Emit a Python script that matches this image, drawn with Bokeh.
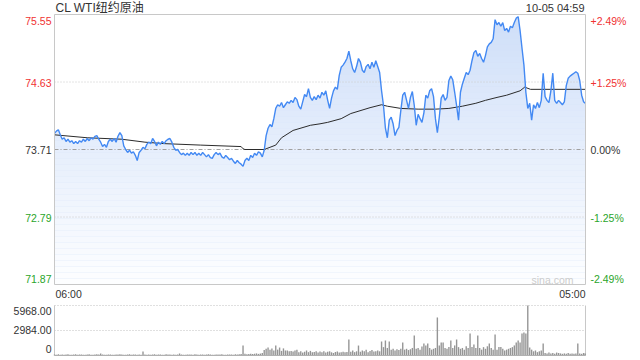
from bokeh.plotting import figure
from bokeh.models import Range1d
from bokeh.core.properties import value
from bokeh.embed import file_html
from bokeh.resources import INLINE

# ---------------- data ----------------
title_text = "CL WTI纽约原油"
stamp_text = "10-05 04:59"
watermark = "sina.com"
prev_close = 73.71
price_ticks = [75.55, 74.63, 73.71, 72.79, 71.87]
price_labels = ["75.55", "74.63", "73.71", "72.79", "71.87"]
pct_labels = ["+2.49%", "+1.25%", "0.00%", "-1.25%", "-2.49%"]
time_labels = ["06:00", "05:00"]
vol_ticks = [5968, 2984, 0]
vol_labels = ["5968.00", "2984.00", "0"]

# minutes after 06:00, 5-minute samples
minutes = list(range(0, 1380, 5)) + [1379]

prices = [
    73.93, 73.96, 73.98, 73.91, 73.85, 73.87, 73.82, 73.85, 73.81, 73.83,
    73.79, 73.82, 73.79, 73.83, 73.81, 73.85, 73.82, 73.86, 73.83, 73.87,
    73.85, 73.89, 73.90, 73.85, 73.81, 73.75, 73.78, 73.74, 73.82, 73.85,
    73.82, 73.86, 73.81, 73.89, 73.94, 73.90, 73.76, 73.71, 73.67, 73.70,
    73.66, 73.68, 73.63, 73.56, 73.67, 73.70, 73.74, 73.72, 73.78, 73.81,
    73.79, 73.86, 73.82, 73.76, 73.81, 73.78, 73.82, 73.79, 73.83, 73.85,
    73.86, 73.81, 73.74, 73.70, 73.71, 73.67, 73.64, 73.66, 73.63, 73.66,
    73.63, 73.67, 73.64, 73.67, 73.63, 73.66, 73.63, 73.67, 73.64, 73.61,
    73.64, 73.60, 73.59, 73.64, 73.67, 73.64, 73.66, 73.61, 73.59, 73.63,
    73.60, 73.57, 73.59, 73.55, 73.52, 73.56, 73.53, 73.51, 73.48, 73.56,
    73.59, 73.56, 73.63, 73.60, 73.66, 73.63, 73.68, 73.66, 73.61, 73.70,
    73.90, 74.00, 74.05, 74.02, 74.13, 74.27, 74.32, 74.30, 74.35, 74.28,
    74.32, 74.36, 74.34, 74.38, 74.35, 74.42, 74.39, 74.30, 74.26, 74.36,
    74.46, 74.43, 74.54, 74.42, 74.38, 74.43, 74.39, 74.45, 74.41, 74.49,
    74.45, 74.51, 74.38, 74.27, 74.41, 74.51, 74.56, 74.53, 74.72, 74.83,
    74.86, 74.90, 74.95, 75.05, 74.92, 74.81, 74.76, 74.84, 74.95, 74.90,
    74.79, 74.76, 74.84, 74.87, 74.81, 74.90, 74.83, 74.92, 74.84, 74.76,
    74.51, 74.31, 74.00, 73.87, 74.11, 74.15, 74.06, 73.90, 73.97, 74.01,
    74.24, 74.45, 74.49, 74.38, 74.27, 74.42, 74.50, 74.31, 74.04, 74.19,
    74.13, 74.08, 74.21, 74.45, 74.41, 74.51, 74.54, 74.43, 74.13, 73.94,
    74.15, 74.41, 74.46, 74.38, 74.42, 74.65, 74.71, 74.66, 74.49, 74.31,
    74.11, 74.49, 74.60, 74.68, 74.76, 74.73, 74.79, 74.92, 75.03, 75.06,
    74.98, 75.02, 74.95, 74.90, 74.99, 75.11, 75.15, 75.17, 75.22, 75.48,
    75.41, 75.44, 75.39, 75.44, 75.33, 75.36, 75.31, 75.39, 75.37, 75.44,
    75.50, 75.52, 75.33, 75.09, 74.86, 74.49, 74.27, 74.34, 74.11, 74.32,
    74.27, 74.35, 74.28, 74.38, 74.75, 74.43, 74.38, 74.35, 74.51, 74.75,
    74.38, 74.34, 74.38, 74.35, 74.32, 74.36, 74.58, 74.68, 74.71, 74.73,
    74.75, 74.77, 74.75, 74.65, 74.45, 74.36, 74.34,
]

avg_minutes = [0, 85, 175, 235, 285, 380, 485, 490, 495, 545,
               560, 575, 590, 620, 665, 690, 710, 745, 770, 820,
               850, 865, 900, 945, 990, 1025, 1060, 1095, 1120, 1150,
               1175, 1210, 1222, 1237, 1379]
avg_prices = [73.91, 73.87, 73.85, 73.81, 73.79, 73.77, 73.75, 73.72, 73.71, 73.71,
              73.74, 73.77, 73.87, 73.97, 74.04, 74.06, 74.08, 74.13, 74.20, 74.28,
              74.32, 74.30, 74.27, 74.26, 74.26, 74.27, 74.30, 74.34, 74.38, 74.42,
              74.45, 74.51, 74.56, 74.53, 74.53]

volumes = [
    120, 90, 150, 100, 130, 80, 110, 140, 90, 100,
    120, 160, 90, 110, 130, 100, 80, 120, 150, 100,
    90, 110, 140, 120, 240, 130, 90, 80, 110, 110,
    100, 90, 130, 120, 150, 110, 100, 90, 120, 140,
    100, 110, 130, 90, 120, 100,
    480,
    130, 100, 120, 90, 110, 150, 100, 130, 120, 90,
    100, 140, 110, 120, 90, 130, 100, 110, 250, 120,
    100, 90, 130, 110, 120, 100, 140, 110, 90, 120,
    130, 100, 110, 150, 120, 90, 100, 130, 110, 120,
    140, 100, 90, 120, 110, 130, 100, 150, 120, 140,
    180, 1190,
    200, 150, 180, 220, 170, 200, 250, 190, 230, 300,
    650, 800, 950, 700, 840, 600, 1190,
    700, 950, 550, 850, 600,
    600, 500, 550, 480, 600, 700,
    400, 500, 350, 450, 600, 400, 550, 380, 420, 500, 360, 480, 400, 520,
    350, 450, 500, 380, 300, 420, 480, 350, 400, 460, 380, 420,
    1910,
    450, 600, 400, 500,
    1190,
    450, 600, 500, 700, 400, 550, 650, 480, 520, 600,
    500, 1670, 1000, 1790, 900, 1670,
    700, 800, 600, 750, 650, 800,
    1550,
    700, 800, 650, 750,
    900, 2390,
    800, 900, 700,
    1070,
    1430, 1200, 1430, 900,
    700, 800,
    900, 4540,
    1200, 1550, 1550, 900,
    800, 1000,
    1790,
    900, 1200,
    1910,
    1000, 800, 900, 700, 1100, 900,
    2630,
    1000, 1300,
    900, 2390,
    900, 700, 1000,
    800, 1100, 1430,
    900, 700,
    2510,
    700, 1000, 1000, 800, 600, 700,
    800, 900, 1000, 1200, 1550,
    1790, 1550, 2630, 2750, 2630, 5968, 950,
    700, 500, 600, 400, 500, 600,
    1430,
    300, 250, 350, 250, 300, 200, 350, 300, 250,
    200, 250, 200, 300, 200, 250, 200, 250,
    1430,
    250, 200, 300, 250,
]

# ---------------- layout (pixels) ----------------
W, H = 640, 360
L, R = 54, 585
PT, PB = 14, 284
VT, VB = 305, 355
T0, T1 = 0, 1380
P_HI, P_LO = price_ticks[0], price_ticks[-1]
V_HI = vol_ticks[0]


def tx(px):
    return T0 + (px - L) * (T1 - T0) / (R - L)


def py(pix):
    return P_HI - (pix - PT) * (P_HI - P_LO) / (PB - PT)


def vy(pix):
    return V_HI - (pix - VT) * V_HI / (VB - VT)


n = min(len(minutes), len(prices))
mins = minutes[:n]
prs = prices[:n]
nv = min(len(minutes), len(volumes))

p = figure(width=W, height=H, output_backend="svg", toolbar_location=None,
           x_axis_location=None, y_axis_location=None, min_border=0,
           x_range=Range1d(tx(0), tx(W)), y_range=Range1d(py(H), py(0)))
p.extra_y_ranges = {"vol": Range1d(vy(H), vy(0))}
p.outline_line_color = None
p.xgrid.visible = False
p.ygrid.visible = False
p.background_fill_color = "white"
p.border_fill_color = "white"

FONT = value("Liberation Sans, Arial, Noto Sans CJK SC")
RED, GREEN, DARK = "#f03232", "#2aa52a", "#333333"

# area under price line with vertical gradient
p.varea(x=mins, y1=[P_LO] * n, y2=prs, fill_color="#cfdff9", fill_alpha=1.0)
nb = 45
band_px = (PB - PT) / nb
bot, top, alph = [], [], []
for k in range(nb):
    y_top_px = PT + k * band_px
    y_bot_px = y_top_px + band_px
    top.append(py(y_top_px))
    bot.append(py(y_bot_px))
    alph.append(0.97 * (k + 0.5) / nb)
p.quad(left=T0, right=T1, bottom=bot, top=top, fill_color="white",
       fill_alpha=alph, line_color=None)

# grid lines
for tv in (price_ticks[1], price_ticks[3]):
    p.line(x=[T0, T1], y=[tv, tv], line_color="#c8c8c8", line_dash="1 2", line_width=1)
p.line(x=[T0, T1], y=[prev_close, prev_close], line_color="#a0a0a0",
       line_dash="4 2 1 2", line_width=1)

# average and price lines
p.line(x=avg_minutes, y=avg_prices, line_color="#2b2b2b", line_width=1)
p.line(x=mins, y=prs, line_color="#4389f3", line_width=1.4)

# price panel border
p.quad(left=T0, right=T1, bottom=P_LO, top=P_HI, fill_color=None,
       line_color="#c8c8c8", line_width=1)

# volume panel
for vt in (vol_ticks[0], vol_ticks[1]):
    p.line(x=[T0, T1], y=[vt, vt], line_color="#c0c0c0", line_dash="1 2",
           line_width=1, y_range_name="vol")
p.segment(x0=[T0, T1], x1=[T0, T1], y0=[0, 0], y1=[V_HI, V_HI],
          line_color="#c8c8c8", line_width=1, y_range_name="vol")
p.vbar(x=minutes[:nv], top=volumes[:nv], bottom=0, width=3.6,
       fill_color="#8a8a8a", line_color=None, fill_alpha=0.9, y_range_name="vol")
p.line(x=[T0, T1], y=[0, 0], line_color="#b0b0b0", line_width=1, y_range_name="vol")

# texts
p.text(x=[tx(55)], y=[py(7)], text=[title_text], text_font=FONT,
       text_font_size="12px", text_color=DARK, text_align="left",
       text_baseline="middle")
p.text(x=[tx(584)], y=[py(7)], text=[stamp_text], text_font=FONT,
       text_font_size="11px", text_color=DARK, text_align="right",
       text_baseline="middle")

label_px = [20, 82, 149, 217, 278]
label_cols = [RED, RED, DARK, GREEN, GREEN]
p.text(x=[tx(51)] * 5, y=[py(v) for v in label_px], text=price_labels,
       text_font=FONT, text_font_size="10.5px", text_color=label_cols,
       text_align="right", text_baseline="middle")
p.text(x=[tx(590)] * 5, y=[py(v) for v in label_px], text=pct_labels,
       text_font=FONT, text_font_size="10.5px", text_color=label_cols,
       text_align="left", text_baseline="middle")

p.text(x=[tx(55), tx(585)], y=[py(293), py(293)], text=time_labels,
       text_font=FONT, text_font_size="10.5px", text_color=DARK,
       text_align=["left", "right"], text_baseline="middle")

p.text(x=[tx(51)] * 3, y=[vy(v) for v in (310, 329, 348)], text=vol_labels,
       text_font=FONT, text_font_size="10.5px", text_color=DARK,
       text_align="right", text_baseline="middle", y_range_name="vol")

p.text(x=[tx(573)], y=[py(279)], text=[watermark], text_font=FONT,
       text_font_size="10.5px", text_color="#cccccc", text_align="right",
       text_baseline="middle")

open("out.html", "w").write(file_html(p, INLINE))
